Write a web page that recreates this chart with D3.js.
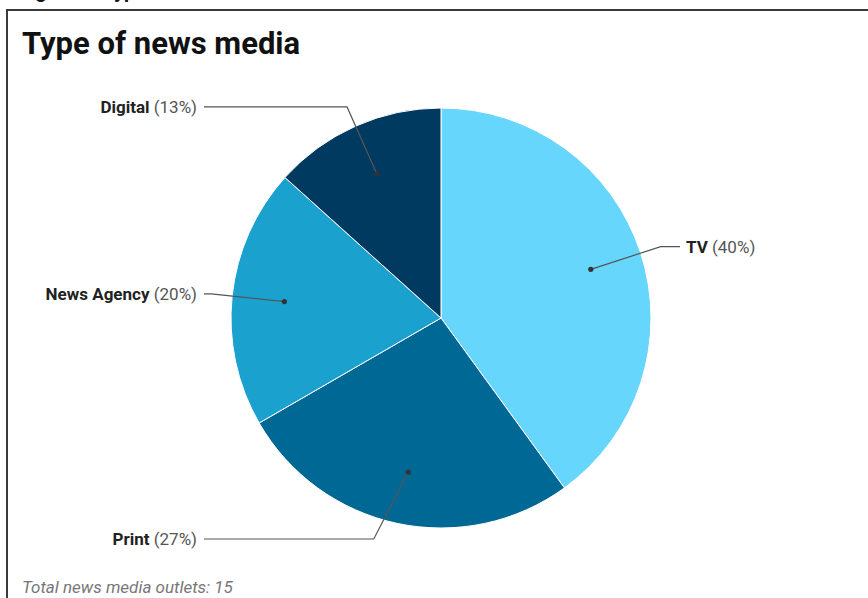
<!DOCTYPE html>
<html>
<head>
<meta charset="utf-8">
<script src="https://cdn.jsdelivr.net/npm/d3@7"></script>
<style>
  html, body { margin: 0; padding: 0; background: #fff; }
  svg { display: block; font-family: Roboto, "Noto Sans", sans-serif; }
</style>
</head>
<body>
<svg id="chart" width="868" height="598"></svg>
<script>
const categories = ["TV", "Print", "News Agency", "Digital"];
const counts = [6, 4, 3, 2];
const percentLabels = ["40%", "27%", "20%", "13%"];
const colors = ["#67d6fd", "#006894", "#1ba1ce", "#003a60"];
const titleText = "Type of news media";
const footerText = "Total news media outlets: 15";
const captionText = "Figure 5: Type of news media outlets";

const svg = d3.select("#chart");
const W = 868, H = 598;

// cut-off caption above the frame
svg.append("text")
  .attr("x", 19).attr("y", -2)
  .attr("font-size", 20).attr("font-weight", 700).attr("fill", "#111")
  .text(captionText);

// frame
svg.append("path")
  .attr("d", `M7,${H + 5} V10 H${W + 5}`)
  .attr("fill", "none").attr("stroke", "#3a3a3a").attr("stroke-width", 2);

// title
svg.append("text")
  .attr("x", 22).attr("y", 54)
  .attr("font-size", 31).attr("font-weight", 700).attr("fill", "#111")
  .text(titleText);

// footer
svg.append("text")
  .attr("x", 22).attr("y", 593)
  .attr("font-size", 17).attr("font-style", "italic").attr("fill", "#777")
  .text(footerText);

const cx = 441, cy = 318, R = 210;
const data = categories.map((c, i) => ({ name: c, value: counts[i], pct: percentLabels[i], color: colors[i] }));

const pie = d3.pie().value(d => d.value).sort(null);
const arcs = pie(data);
const arc = d3.arc().innerRadius(0).outerRadius(R);
const dotArc = d3.arc().innerRadius(R * 0.75).outerRadius(R * 0.75);
const rElbow = R * 1.1;
const elbowArc = d3.arc().innerRadius(rElbow).outerRadius(rElbow);
const maxLabelY = R + 11;

const g = svg.append("g").attr("transform", `translate(${cx},${cy})`);

g.selectAll("path.slice").data(arcs).enter().append("path")
  .attr("class", "slice")
  .attr("d", arc)
  .attr("fill", d => d.data.color)
  .attr("stroke", "#fff").attr("stroke-width", 1);

arcs.forEach(a => {
  const mid = (a.startAngle + a.endAngle) / 2;
  const right = mid < Math.PI;
  const [dx, dy] = dotArc.centroid(a);
  let [ex, ey] = elbowArc.centroid(a);
  if (Math.abs(ey) > maxLabelY) {
    ey = Math.sign(ey) * maxLabelY;
    ex = Math.sign(ex) * Math.sqrt(rElbow * rElbow - ey * ey);
  }
  const endX = right ? R + 29 : -(R + 27);
  g.append("polyline")
    .attr("points", `${dx},${dy} ${ex},${ey} ${endX},${ey}`)
    .attr("fill", "none").attr("stroke", "#555").attr("stroke-width", 1.2);
  g.append("circle").attr("cx", dx).attr("cy", dy).attr("r", 2.6).attr("fill", "#333");
  const t = g.append("text")
    .attr("x", right ? endX + 6 : endX - 7)
    .attr("y", ey)
    .attr("dy", "0.35em")
    .attr("text-anchor", right ? "start" : "end")
    .attr("font-size", 17).attr("fill", "#222");
  t.append("tspan").attr("font-weight", 700).text(a.data.name);
  t.append("tspan").attr("fill", "#555").text(" (" + a.data.pct + ")");
});
</script>
</body>
</html>
